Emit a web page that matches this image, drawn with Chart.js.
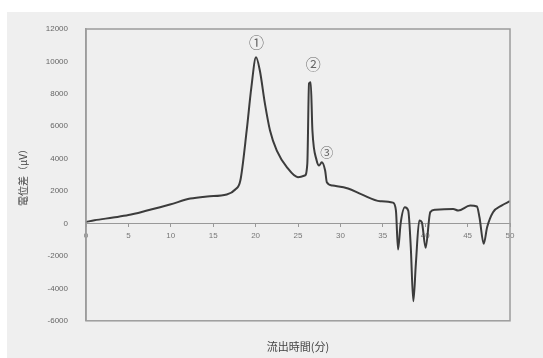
<!DOCTYPE html>
<html lang="ja">
<head>
    <meta charset="UTF-8">
    <title>流出時間と電位差</title>
    <script src="https://cdn.jsdelivr.net/npm/chart.js"></script>
    <style>
        body {
            margin: 0;
            background: #fff;
            font-family: "Noto Sans CJK JP", "Liberation Sans", sans-serif;
        }
        #chartBox {
            position: absolute;
            left: 7px;
            top: 12px;
            width: 536px;
            height: 346px;
            background: #efefef;
        }
    </style>
</head>
<body>
    <div id="chartBox">
        <canvas id="chromChart"></canvas>
    </div>

    <script>
        // 流出時間 (分) と 電位差 (μV)
        const times = [0, 1, 3.2, 5, 7.2, 9.9, 12.3, 14.3, 16.6, 17.6, 18.2, 18.95, 19.5, 20.05, 20.5,
            21.1, 21.7, 22.5, 23.7, 25.0, 25.8, 26.1, 26.3, 26.5, 26.7, 27.2, 27.5, 27.8, 28.2, 28.4,
            29.1, 30.9, 32.5, 34.7, 36.2, 36.55, 36.8, 37.1, 37.6, 38.0, 38.3, 38.6, 38.9, 39.3, 39.6,
            40.05, 40.6, 41.2, 43.3, 43.9, 45.3, 46.1, 46.4, 46.9, 47.3, 48.0, 49.0, 50];
        const signal = [100, 200, 370, 520, 800, 1170, 1540, 1670, 1790, 2100, 2650, 5740, 8400, 10250, 9440,
            7400, 5740, 4500, 3470, 2860, 2960, 3700, 8640, 8720, 5740, 3890, 3580, 3780, 3270, 2550,
            2340, 2160, 1800, 1380, 1290, 800, -1600, 0, 1000, 800, -1460, -4800, -2470, 190, 80,
            -1500, 700, 850, 900, 800, 1110, 1050, 390, -1250, -230, 700, 1110, 1380];

        // ピーク番号
        const peakNames = ['①', '②', '③'];
        const peakTimes = [20.1, 26.8, 28.4];
        const peakLabelValues = [11150, 9850, 4400];

        const points = times.map((t, i) => ({ x: t, y: signal[i] }));

        // プロット枠とピーク番号
        const framePlugin = {
            id: 'frame',
            afterDraw(chart) {
                const { ctx, chartArea, scales } = chart;
                ctx.save();
                ctx.strokeStyle = '#9c9c9c';
                ctx.lineWidth = 1.5;
                ctx.strokeRect(chartArea.left, chartArea.top,
                    chartArea.right - chartArea.left, chartArea.bottom - chartArea.top);

                ctx.fillStyle = '#666';
                ctx.textAlign = 'center';
                ctx.textBaseline = 'middle';
                peakNames.forEach((name, i) => {
                    ctx.font = (i === 2 ? '13px' : '15px') + ' "Noto Sans CJK JP"';
                    ctx.fillText(name, scales.x.getPixelForValue(peakTimes[i]),
                        scales.y.getPixelForValue(peakLabelValues[i]));
                });
                ctx.restore();
            }
        };

        new Chart(document.getElementById('chromChart'), {
            type: 'line',
            data: {
                datasets: [{
                    data: points,
                    borderColor: '#3c3c3c',
                    borderWidth: 2,
                    pointRadius: 0,
                    cubicInterpolationMode: 'monotone',
                    fill: false
                }]
            },
            options: {
                responsive: true,
                maintainAspectRatio: false,
                animation: false,
                layout: { padding: { top: 17, right: 33, bottom: 3, left: 0 } },
                plugins: {
                    legend: { display: false },
                    tooltip: { enabled: false }
                },
                scales: {
                    x: {
                        type: 'linear',
                        min: 0,
                        max: 50,
                        position: { y: 0 },
                        grid: { drawOnChartArea: false, tickLength: 3, color: '#999' },
                        border: { color: '#999', width: 1 },
                        ticks: {
                            stepSize: 5,
                            padding: 4,
                            color: '#777',
                            font: { family: 'Liberation Sans', size: 8 },
                            callback: (v) => String(v)
                        }
                    },
                    x2: {
                        type: 'linear',
                        min: 0,
                        max: 50,
                        position: 'bottom',
                        grid: { display: false },
                        border: { display: false },
                        ticks: { display: false },
                        title: {
                            display: true,
                            text: '流出時間(分)',
                            color: '#444',
                            font: { family: 'Noto Sans CJK JP', size: 11 },
                            padding: { top: 11, bottom: 2 }
                        }
                    },
                    y: {
                        min: -6000,
                        max: 12000,
                        grid: { display: false },
                        border: { color: '#9c9c9c', width: 1.5 },
                        ticks: {
                            stepSize: 2000,
                            padding: 10,
                            color: '#666',
                            font: { family: 'Liberation Sans', size: 8 },
                            callback: (v) => String(v)
                        },
                        title: {
                            display: true,
                            text: '電位差（μV）',
                            color: '#444',
                            font: { family: 'Noto Sans CJK JP', size: 10 },
                            padding: { top: 10, bottom: 0 }
                        },
                        afterFit(scale) {
                            scale.width = 79;
                        }
                    }
                }
            },
            plugins: [framePlugin]
        });
    </script>
</body>
</html>
